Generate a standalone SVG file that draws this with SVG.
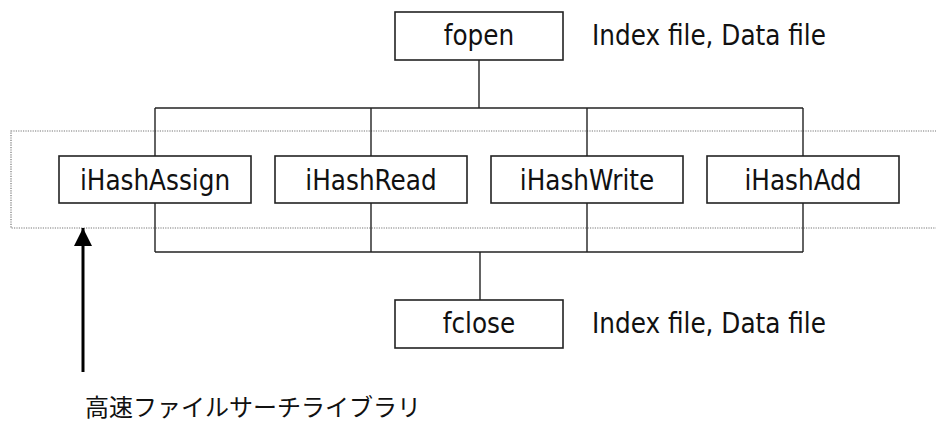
<svg xmlns="http://www.w3.org/2000/svg" width="936" height="423" viewBox="0 0 936 423">
  <style>
    .box { fill: #ffffff; stroke: #222222; stroke-width: 1.6; }
    .lbl { font-family: "DejaVu Sans Condensed", "DejaVu Sans", sans-serif; font-stretch: condensed; font-size: 27.5px; fill: #111111; text-anchor: middle; }
    .note { font-family: "DejaVu Sans Condensed", "DejaVu Sans", sans-serif; font-stretch: condensed; font-size: 27.5px; fill: #111111; }
    .wire { stroke: #222222; stroke-width: 1.4; fill: none; }
    .frame { fill: none; stroke: #777777; stroke-width: 1.2; stroke-dasharray: 1.2 1.2; }
    .jp { font-family: "Noto Sans CJK JP", sans-serif; font-size: 24px; fill: #111111; }
  </style>
  <defs>
    <marker id="tip" viewBox="0 0 10 10" refX="10" refY="5" markerWidth="6" markerHeight="6" markerUnits="strokeWidth" orient="auto">
      <path d="M0,0 L10,5 L0,10 Z" fill="#000000"/>
    </marker>
  </defs>

  <rect width="936" height="423" fill="#ffffff"/>

  <!-- dotted boundary of the library -->
  <rect class="frame" x="11" y="131" width="940" height="97"/>

  <!-- connectors -->
  <g id="connectors">
    <line class="wire" x1="479" y1="60" x2="479" y2="108"/>
    <line class="wire" x1="155" y1="108" x2="803" y2="108"/>
    <line class="wire" x1="155" y1="108" x2="155" y2="156"/>
    <line class="wire" x1="371" y1="108" x2="371" y2="156"/>
    <line class="wire" x1="587" y1="108" x2="587" y2="156"/>
    <line class="wire" x1="803" y1="108" x2="803" y2="156"/>
    <line class="wire" x1="155" y1="203" x2="155" y2="252"/>
    <line class="wire" x1="371" y1="203" x2="371" y2="252"/>
    <line class="wire" x1="587" y1="203" x2="587" y2="252"/>
    <line class="wire" x1="803" y1="203" x2="803" y2="252"/>
    <line class="wire" x1="155" y1="252" x2="803" y2="252"/>
    <line class="wire" x1="480" y1="252" x2="480" y2="300"/>
    <line x1="83" y1="372" x2="83" y2="228" stroke="#000000" stroke-width="3" marker-end="url(#tip)"/>
  </g>

  <g id="fopen">
    <rect class="box" x="395" y="12" width="168" height="48"/>
    <text class="lbl" x="479" y="45">fopen</text>
  </g>
  <text class="note" x="592" y="45">Index file, Data file</text>

  <g id="iHashAssign">
    <rect class="box" x="59" y="156" width="192" height="47"/>
    <text class="lbl" x="155" y="190">iHashAssign</text>
  </g>
  <g id="iHashRead">
    <rect class="box" x="275" y="156" width="192" height="47"/>
    <text class="lbl" x="371" y="190">iHashRead</text>
  </g>
  <g id="iHashWrite">
    <rect class="box" x="491" y="156" width="192" height="47"/>
    <text class="lbl" x="587" y="190">iHashWrite</text>
  </g>
  <g id="iHashAdd">
    <rect class="box" x="707" y="156" width="192" height="47"/>
    <text class="lbl" x="803" y="190">iHashAdd</text>
  </g>

  <g id="fclose">
    <rect class="box" x="395" y="300" width="168" height="48"/>
    <text class="lbl" x="479" y="333">fclose</text>
  </g>
  <text class="note" x="592" y="333">Index file, Data file</text>

  <text class="jp" x="85" y="416">高速ファイルサーチライブラリ</text>
</svg>
